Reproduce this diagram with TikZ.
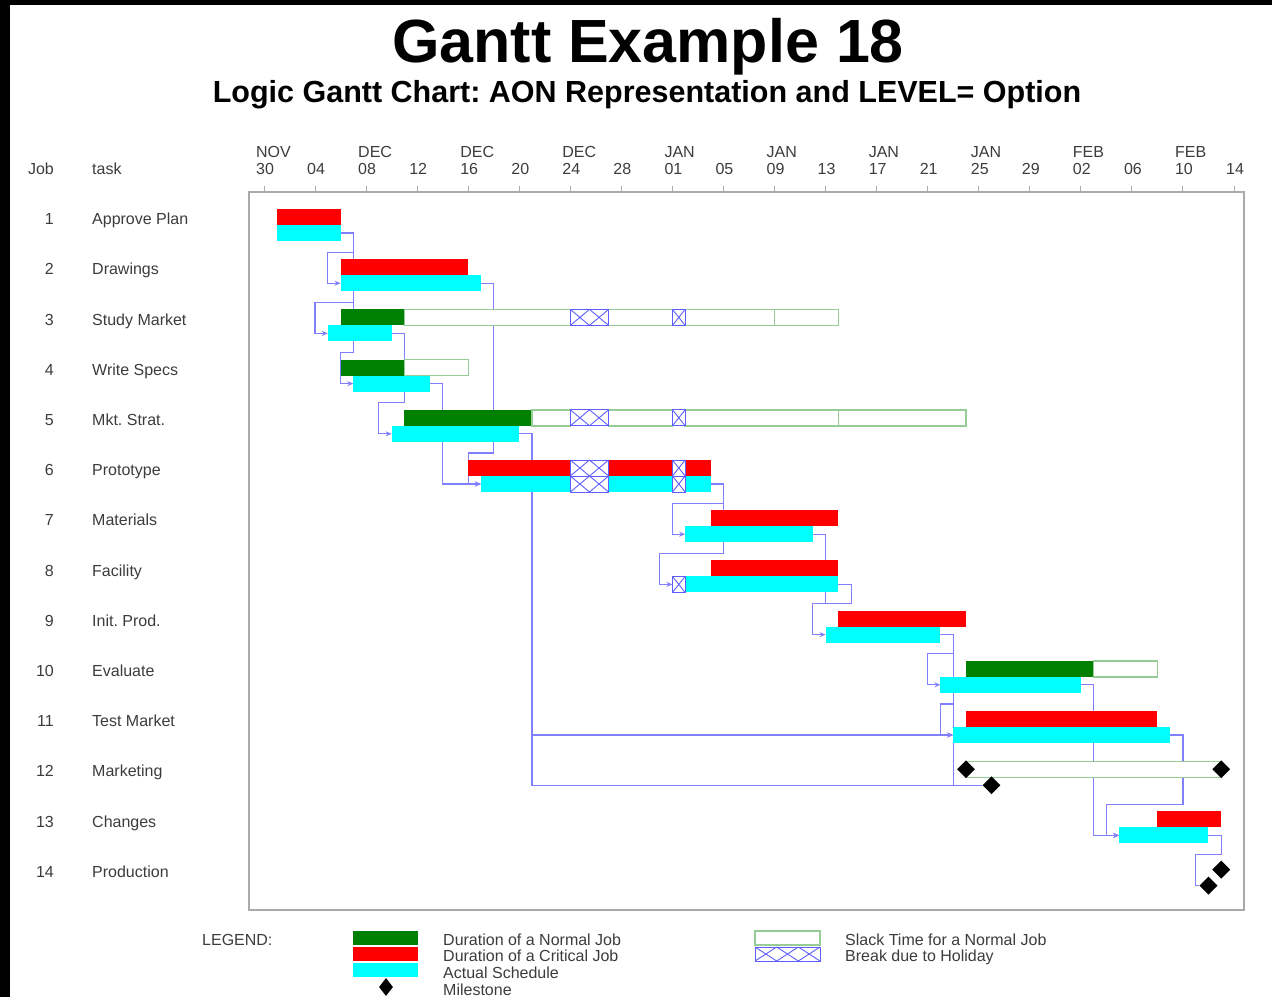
\documentclass[tikz,border=0pt]{standalone}
\usepackage{fontspec}
\setmainfont{Liberation Sans}
\frenchspacing
\usetikzlibrary{arrows.meta,positioning,shapes.geometric,backgrounds}
\definecolor{critred}{RGB}{255,0,0}
\definecolor{normgreen}{RGB}{0,128,0}
\definecolor{actcyan}{RGB}{0,255,255}
\definecolor{logicblue}{RGB}{128,128,255}
\definecolor{holblue}{RGB}{95,95,255}
\definecolor{slackgreen}{RGB}{150,205,150}
\definecolor{framegray}{RGB}{170,170,170}
\definecolor{textgray}{RGB}{60,60,60}
\tikzstyle{actual}=[fill=actcyan]
\tikzstyle{slack}=[draw=slackgreen,line width=1.4pt,fill=white]
\tikzstyle{holi}=[draw=holblue,line width=0.9pt]
\tikzstyle{logic}=[draw=logicblue,line width=1.15pt]
\tikzstyle{logicarrow}=[logic,-{Stealth[length=6pt,width=5pt]}]
\tikzstyle{milestone}=[diamond,fill=black,minimum size=18pt,inner sep=0pt]
\tikzstyle{rowlab}=[font=\fontsize{16}{18}\selectfont,text=textgray,inner sep=0pt]
% holiday box: x from, x to, top, bottom, number of crosses
\newcommand{\holbox}[5]{%
  \fill[white] (#1,{#3}) rectangle (#2,{#4});
  \foreach \k in {1,...,#5}{
    \draw[holi] ({#1+(\k-1)*(#2-#1)/#5},{#3}) -- ({#1+\k*(#2-#1)/#5},{#4})
                ({#1+(\k-1)*(#2-#1)/#5},{#4}) -- ({#1+\k*(#2-#1)/#5},{#3});
  }
  \draw[holi] (#1,{#3}) rectangle (#2,{#4});
}
\begin{document}
\begin{tikzpicture}[x=1pt,y=-1pt]
\useasboundingbox (0,0) rectangle (1272,997);
\fill[black] (0,0) rectangle (1272,5);
\fill[black] (0,0) rectangle (10,997);

% titles
\node[font=\fontsize{61}{70}\selectfont\bfseries,anchor=base,inner sep=0pt] (title) at (648,62) {Gantt Example 18};
\node[font=\fontsize{30.5}{36}\selectfont\bfseries,anchor=base,inner sep=0pt] (subtitle) at (647,102) {Logic Gantt Chart: AON Representation and LEVEL= Option};

% job column
\node[rowlab,anchor=base east] (jobhead) at (54,174.7) {Job};
\node[rowlab,anchor=base west] (taskhead) at (92,174.7) {task};
\foreach \task [count=\r] in {Approve Plan,Drawings,Study Market,Write Specs,Mkt. Strat.,Prototype,Materials,Facility,Init. Prod.,Evaluate,Test Market,Marketing,Changes,Production}{
  \node[rowlab,anchor=base east] (job\r) at (54,{224.7+(\r-1)*50.2}) {\r};
  \node[rowlab,anchor=base west] (task\r) at (92,{224.7+(\r-1)*50.2}) {\task};
}

\draw[framegray,line width=1.6pt] (249,192) rectangle (1244,910);

\begin{scope}[xshift=264pt,x=12.763pt]
 % time axis
 \foreach \d/\dl [count=\i] in {0/30,4/04,8/08,12/12,16/16,20/20,24/24,28/28,32/01,36/05,40/09,44/13,48/17,52/21,56/25,60/29,64/02,68/06,72/10,76/14}{
   \draw[framegray,line width=1pt] (\d,186) -- (\d,192);
   \node[rowlab,anchor=base] (day\i) at (\d+0.08,174.7) {\dl};
 }
 \foreach \i/\mo in {1/NOV,3/DEC,5/DEC,7/DEC,9/JAN,11/JAN,13/JAN,15/JAN,17/FEB,19/FEB}
   \node[rowlab,anchor=base west,yshift=17pt] (month\i) at (day\i.base west) {\mo};

 % duration and actual bars
 \foreach \r/\durA/\durB/\actA/\actB/\kind in {1/1/6/1/6/critred,2/6/16/6/17/critred,3/6/11/5/10/normgreen,4/6/11/7/13/normgreen,5/11/21/10/20/normgreen,6/16/35/17/35/critred,7/35/45/33/43/critred,8/35/45/32/45/critred,9/45/55/44/53/critred,10/55/65/53/64/normgreen,11/55/70/54/71/critred,13/70/75/67/74/critred}{
   \pgfmathsetmacro\yt{209+(\r-1)*50.2}
   \fill[fill=\kind] (\durA,\yt) rectangle (\durB,{\yt+16});
   \fill[actual] (\actA,{\yt+16}) rectangle (\actB,{\yt+32});
   \coordinate (s\r) at (\actA,{\yt+24});
   \coordinate (e\r) at (\actB,{\yt+24});
   \coordinate (o\r) at (\actB+1,{\yt+24});
   \coordinate (in\r) at (\actA-1,{\yt+24});
   \coordinate (g\r) at (\actA-1,{\yt-7});
 }

 % slack time
 \foreach \a/\b in {11/24,27/32,33/40,40/45} \draw[slack] (\a,309.4) rectangle (\b,325.4);
 \draw[slack] (11,359.6) rectangle (16,375.6);
 \foreach \a/\b in {21/24,27/32,33/45,45/55} \draw[slack] (\a,409.8) rectangle (\b,425.8);
 \draw[slack] (65,661) rectangle (70,677);
 \draw[slack] (55,761.2) rectangle (75,777.2);

 % holidays
 \holbox{24}{27}{309.4}{325.4}{2}
 \holbox{32}{33}{309.4}{325.4}{1}
 \holbox{24}{27}{409.8}{425.8}{2}
 \holbox{32}{33}{409.8}{425.8}{1}
 \holbox{24}{27}{460}{476}{2}
 \holbox{24}{27}{476}{492}{2}
 \holbox{32}{33}{460}{476}{1}
 \holbox{32}{33}{476}{492}{1}
 \holbox{32}{33}{576.4}{592.4}{1}

 % milestones
 \node[milestone] (ms12a) at (55,769.2) {};
 \node[milestone] (ms12c) at (75,769.2) {};
 \node[milestone] (ms12b) at (57,785.2) {};
 \node[milestone] (ms14a) at (75,869.6) {};
 \node[milestone] (ms14b) at (74,885.6) {};
 \coordinate (in14) at (73,885.6);
 \coordinate (g14) at (73,854.6);

 % precedence links
 \begin{scope}[on background layer]
 \draw[logicarrow] (e1) -- (o1) |- (g2) -- (in2) -- (s2);
 \draw[logicarrow] (o1) |- (g3) -- (in3) -- (s3);
 \draw[logicarrow] (o1) |- (g4) -- (in4) -- (s4);
 \draw[logicarrow] (e2) -- (o2) |- (g6) -- (in6) -- (s6);
 \draw[logicarrow] (e3) -- (o3) |- (g5) -- (in5) -- (s5);
 \draw[logicarrow] (e4) -- (o4) |- (s6);
 \draw[logicarrow] (e5) -- (o5) |- (s11);
 \draw[logic] (o5) |- (ms12b);
 \draw[logicarrow] (e6) -- (o6) |- (g7) -- (in7) -- (s7);
 \draw[logicarrow] (o6) |- (g8) -- (in8) -- (s8);
 \draw[logicarrow] (e7) -- (o7) |- (g9) -- (in9) -- (s9);
 \draw[logic] (e8) -- (o8) |- (g9);
 \draw[logicarrow] (e9) -- (o9) |- (g10) -- (in10) -- (s10);
 \draw[logicarrow] (o9) |- (g11) -- (in11) -- (s11);
 \draw[logic] (o9) |- (ms12b);
 \draw[logicarrow] (e10) -- (o10) |- (s13);
 \draw[logicarrow] (e11) -- (o11) |- (g13) -- (in13) -- (s13);
 \draw[logic] (e13) -- (o13) |- (g14) -- (in14) -- (ms14b);
 \end{scope}
\end{scope}

% legend
\node[rowlab,anchor=base west] (legend) at (202,945.7) {LEGEND:};
\fill[fill=normgreen] (353,931) rectangle (418,945);
\fill[fill=critred] (353,947) rectangle (418,961);
\fill[actual] (353,963) rectangle (418,977);
\node[milestone,minimum width=14pt,minimum height=18pt] (legms) at (386,987) {};
\node[rowlab,anchor=base west] (legnorm) at (443,945.7) {Duration of a Normal Job};
\node[rowlab,anchor=base west] (legcrit) at (443,961.7) {Duration of a Critical Job};
\node[rowlab,anchor=base west] (legact) at (443,978.4) {Actual Schedule};
\node[rowlab,anchor=base west] (legmile) at (443,995) {Milestone};
\draw[slack] (755,931) rectangle (820,945);
\holbox{755}{820}{947}{961}{3}
\node[rowlab,anchor=base west] (legslack) at (845,945.7) {Slack Time for a Normal Job};
\node[rowlab,anchor=base west] (leghol) at (845,961.7) {Break due to Holiday};
\end{tikzpicture}
\end{document}
